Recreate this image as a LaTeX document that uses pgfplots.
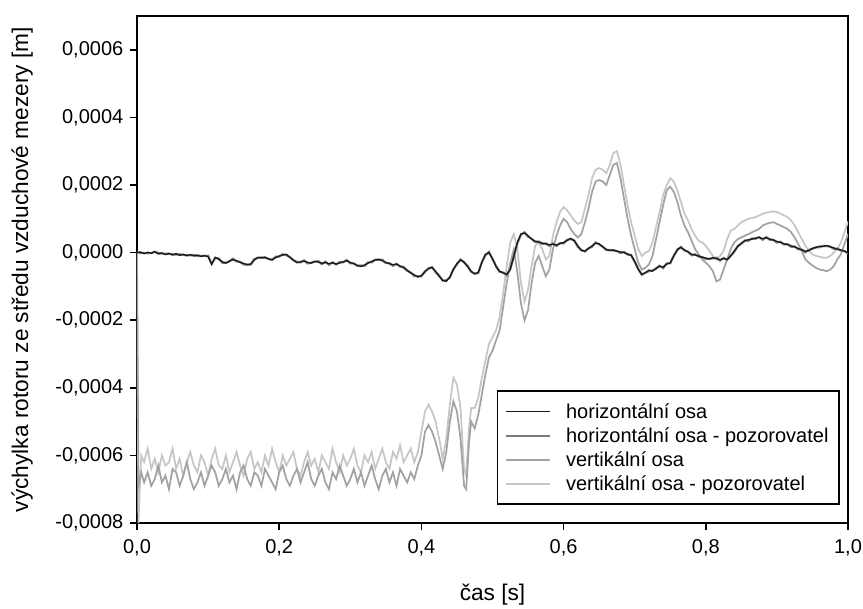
\documentclass[border=0pt]{standalone}
\usepackage{pgfplots}
\pgfplotsset{compat=1.18}
\usepackage{pgfplotstable}
\usepackage{fontspec}
\setmainfont{Liberation Sans}

\definecolor{hcol}{HTML}{1A1A1A}
\definecolor{hpcol}{HTML}{7C7C7C}
\definecolor{vcol}{HTML}{A2A2A2}
\definecolor{vpcol}{HTML}{C6C6C6}

% values in 1e-4 m
\pgfplotstableread{
t h hp
0.000 0.00 0.01
0.005 0.02 -0.01
0.010 -0.03 -0.01
0.015 0.01 -0.02
0.020 -0.02 -0.01
0.025 0.03 0.02
0.030 -0.04 -0.01
0.035 -0.01 -0.03
0.040 -0.06 -0.03
0.045 -0.02 -0.04
0.050 -0.07 -0.05
0.055 -0.03 -0.06
0.060 -0.08 -0.05
0.065 -0.05 -0.07
0.070 -0.09 -0.08
0.075 -0.06 -0.08
0.080 -0.10 -0.07
0.085 -0.07 -0.10
0.090 -0.11 -0.10
0.095 -0.09 -0.10
0.100 -0.12 -0.09
0.105 -0.35 -0.33
0.110 -0.14 -0.16
0.115 -0.20 -0.17
0.120 -0.27 -0.30
0.125 -0.31 -0.30
0.130 -0.25 -0.26
0.135 -0.21 -0.18
0.140 -0.24 -0.26
0.145 -0.29 -0.27
0.150 -0.32 -0.35
0.155 -0.36 -0.35
0.160 -0.34 -0.35
0.165 -0.22 -0.19
0.170 -0.14 -0.16
0.175 -0.16 -0.14
0.180 -0.13 -0.16
0.185 -0.19 -0.18
0.190 -0.21 -0.22
0.195 -0.15 -0.12
0.200 -0.10 -0.12
0.205 -0.07 -0.05
0.210 -0.05 -0.08
0.215 -0.14 -0.13
0.220 -0.22 -0.23
0.225 -0.30 -0.27
0.230 -0.27 -0.29
0.235 -0.25 -0.23
0.240 -0.29 -0.32
0.245 -0.31 -0.30
0.250 -0.26 -0.27
0.255 -0.28 -0.25
0.260 -0.32 -0.34
0.265 -0.29 -0.27
0.270 -0.33 -0.36
0.275 -0.30 -0.29
0.280 -0.34 -0.35
0.285 -0.31 -0.28
0.290 -0.27 -0.29
0.295 -0.24 -0.22
0.300 -0.29 -0.32
0.305 -0.33 -0.32
0.310 -0.38 -0.39
0.315 -0.41 -0.38
0.320 -0.37 -0.39
0.325 -0.31 -0.29
0.330 -0.26 -0.29
0.335 -0.22 -0.21
0.340 -0.20 -0.21
0.345 -0.24 -0.21
0.350 -0.29 -0.31
0.355 -0.33 -0.31
0.360 -0.36 -0.39
0.365 -0.34 -0.33
0.370 -0.40 -0.41
0.375 -0.45 -0.42
0.380 -0.52 -0.54
0.385 -0.60 -0.59
0.390 -0.66 -0.69
0.395 -0.72 -0.70
0.400 -0.68 -0.70
0.405 -0.57 -0.55
0.410 -0.46 -0.48
0.415 -0.44 -0.43
0.420 -0.55 -0.58
0.425 -0.70 -0.68
0.430 -0.82 -0.83
0.435 -0.85 -0.82
0.440 -0.72 -0.74
0.445 -0.50 -0.49
0.450 -0.32 -0.35
0.455 -0.22 -0.20
0.460 -0.28 -0.29
0.465 -0.42 -0.39
0.470 -0.55 -0.57
0.475 -0.63 -0.62
0.480 -0.58 -0.61
0.485 -0.30 -0.28
0.490 -0.05 -0.08
0.495 0.00 0.02
0.500 -0.18 -0.19
0.505 -0.42 -0.39
0.510 -0.55 -0.57
0.515 -0.60 -0.59
0.520 -0.64 -0.67
0.525 -0.50 -0.48
0.530 -0.10 -0.12
0.535 0.30 0.28
0.540 0.55 0.53
0.545 0.58 0.60
0.550 0.50 0.47
0.555 0.40 0.41
0.560 0.34 0.31
0.565 0.31 0.33
0.570 0.28 0.26
0.575 0.26 0.27
0.580 0.23 0.20
0.585 0.25 0.27
0.590 0.22 0.20
0.595 0.27 0.28
0.600 0.30 0.27
0.605 0.36 0.38
0.610 0.42 0.40
0.615 0.35 0.36
0.620 0.20 0.17
0.625 0.06 0.08
0.630 0.05 0.03
0.635 0.12 0.13
0.640 0.20 0.17
0.645 0.28 0.30
0.650 0.26 0.24
0.655 0.17 0.18
0.660 0.10 0.07
0.665 0.06 0.08
0.670 0.08 0.06
0.675 0.04 0.05
0.680 0.02 -0.01
0.685 0.00 0.02
0.690 -0.04 -0.06
0.695 -0.08 -0.07
0.700 -0.25 -0.28
0.705 -0.50 -0.48
0.710 -0.64 -0.66
0.715 -0.60 -0.59
0.720 -0.52 -0.55
0.725 -0.55 -0.53
0.730 -0.46 -0.48
0.735 -0.40 -0.39
0.740 -0.43 -0.46
0.745 -0.34 -0.32
0.750 -0.30 -0.32
0.755 -0.10 -0.09
0.760 0.10 0.07
0.765 0.15 0.17
0.770 0.08 0.06
0.775 0.02 0.03
0.780 -0.05 -0.08
0.785 -0.07 -0.05
0.790 -0.10 -0.12
0.795 -0.14 -0.13
0.800 -0.16 -0.19
0.805 -0.19 -0.18
0.810 -0.15 -0.17
0.815 -0.18 -0.15
0.820 -0.21 -0.24
0.825 -0.17 -0.16
0.830 -0.20 -0.22
0.835 -0.10 -0.09
0.840 0.05 0.02
0.845 0.18 0.20
0.850 0.28 0.26
0.855 0.35 0.36
0.860 0.38 0.35
0.865 0.40 0.42
0.870 0.43 0.41
0.875 0.45 0.46
0.880 0.41 0.38
0.885 0.44 0.46
0.890 0.40 0.38
0.895 0.37 0.38
0.900 0.33 0.30
0.905 0.30 0.32
0.910 0.26 0.24
0.915 0.24 0.25
0.920 0.20 0.17
0.925 0.17 0.18
0.930 0.12 0.10
0.935 0.08 0.09
0.940 0.04 0.01
0.945 0.06 0.08
0.950 0.13 0.11
0.955 0.15 0.16
0.960 0.19 0.16
0.965 0.18 0.20
0.970 0.21 0.19
0.975 0.17 0.18
0.980 0.14 0.11
0.985 0.10 0.12
0.990 0.08 0.06
0.995 0.04 0.05
1.000 0.00 -0.03
}\horiz

\pgfplotstableread{
t v vp
0.000 0.0 0.0
0.002 -6.9 -8.0
0.006 -6.5 -6.0
0.010 -6.8 -6.2
0.015 -6.5 -5.8
0.020 -6.9 -6.4
0.025 -6.7 -6.1
0.030 -6.3 -6.5
0.035 -6.8 -6.0
0.040 -6.6 -6.3
0.045 -7.0 -6.2
0.050 -6.4 -5.8
0.055 -6.5 -6.4
0.060 -6.9 -6.1
0.065 -6.6 -6.6
0.070 -6.2 -6.2
0.075 -6.7 -5.9
0.080 -7.0 -6.3
0.085 -6.8 -6.5
0.090 -6.5 -6.0
0.095 -6.9 -6.2
0.100 -6.6 -6.6
0.105 -6.3 -6.1
0.110 -6.5 -5.8
0.115 -6.9 -6.3
0.120 -6.7 -6.4
0.125 -6.4 -6.0
0.130 -6.8 -6.5
0.135 -6.6 -6.2
0.140 -7.0 -5.9
0.145 -6.5 -6.3
0.150 -6.3 -6.6
0.155 -6.7 -6.1
0.160 -6.9 -5.9
0.165 -6.5 -6.4
0.170 -6.6 -6.2
0.175 -6.9 -6.5
0.180 -6.4 -6.0
0.185 -6.6 -6.3
0.190 -6.8 -5.8
0.195 -7.0 -6.2
0.200 -6.5 -6.5
0.205 -6.3 -6.0
0.210 -6.7 -6.3
0.215 -6.9 -6.1
0.220 -6.6 -5.9
0.225 -6.4 -6.4
0.230 -6.8 -6.6
0.235 -6.5 -6.2
0.240 -6.2 -5.9
0.245 -6.7 -6.3
0.250 -6.9 -6.1
0.255 -6.6 -6.5
0.260 -6.4 -6.0
0.265 -6.8 -6.2
0.270 -7.0 -6.4
0.275 -6.5 -5.8
0.280 -6.7 -6.2
0.285 -6.3 -6.5
0.290 -6.6 -6.0
0.295 -6.9 -6.3
0.300 -6.7 -6.1
0.305 -6.4 -5.8
0.310 -6.8 -6.3
0.315 -6.5 -6.5
0.320 -6.9 -6.0
0.325 -6.6 -6.2
0.330 -6.3 -5.9
0.335 -6.7 -6.4
0.340 -7.0 -6.1
0.345 -6.6 -5.8
0.350 -6.4 -6.2
0.355 -6.8 -6.4
0.360 -6.5 -5.9
0.365 -6.9 -6.1
0.370 -6.4 -5.7
0.375 -6.6 -6.2
0.380 -6.8 -6.0
0.385 -6.5 -5.8
0.390 -6.7 -6.2
0.395 -6.3 -5.9
0.400 -6.0 -5.3
0.405 -5.3 -4.7
0.410 -5.1 -4.5
0.415 -5.3 -4.7
0.420 -5.6 -5.0
0.425 -6.0 -5.5
0.430 -6.4 -6.1
0.435 -5.9 -5.5
0.440 -5.0 -4.5
0.445 -4.4 -3.7
0.450 -4.7 -3.9
0.455 -5.5 -4.6
0.460 -6.9 -6.4
0.463 -7.0 -6.6
0.467 -5.6 -5.2
0.470 -5.0 -4.6
0.475 -5.2 -4.6
0.480 -4.8 -4.3
0.485 -4.2 -3.7
0.490 -3.6 -3.2
0.495 -3.1 -2.7
0.500 -2.9 -2.5
0.505 -2.6 -2.3
0.510 -2.3 -1.9
0.515 -1.6 -1.2
0.520 -0.9 -0.4
0.525 -0.3 0.3
0.530 0.1 0.55
0.535 -0.6 0.1
0.540 -1.5 -0.9
0.545 -2.0 -1.45
0.550 -1.7 -1.1
0.555 -0.9 -0.4
0.560 -0.3 0.2
0.565 -0.1 0.3
0.570 -0.4 0.1
0.575 -0.7 -0.2
0.580 -0.5 -0.1
0.585 0.1 0.5
0.590 0.5 0.9
0.595 0.8 1.2
0.600 1.0 1.35
0.605 0.9 1.25
0.610 0.7 1.1
0.615 0.55 0.95
0.620 0.45 0.85
0.625 0.55 0.9
0.630 0.9 1.3
0.635 1.3 1.7
0.640 1.8 2.2
0.645 2.1 2.45
0.650 2.15 2.5
0.655 2.1 2.45
0.660 2.0 2.35
0.665 2.3 2.6
0.670 2.6 2.95
0.675 2.65 3.0
0.680 2.2 2.6
0.685 1.6 2.0
0.690 1.0 1.4
0.695 0.5 0.9
0.700 0.1 0.5
0.705 -0.3 0.1
0.710 -0.5 -0.1
0.715 -0.45 0.0
0.720 -0.35 0.05
0.725 -0.1 0.3
0.730 0.4 0.75
0.735 0.9 1.2
0.740 1.4 1.7
0.745 1.85 2.0
0.750 1.95 2.2
0.755 1.8 2.1
0.760 1.5 1.85
0.765 1.1 1.5
0.770 0.8 1.15
0.775 0.6 0.95
0.780 0.35 0.7
0.785 0.1 0.5
0.790 -0.05 0.35
0.795 -0.2 0.3
0.800 -0.3 0.2
0.805 -0.4 0.05
0.810 -0.55 -0.1
0.815 -0.85 -0.2
0.820 -0.8 -0.1
0.825 -0.5 0.05
0.830 -0.2 0.4
0.835 0.1 0.65
0.840 0.3 0.7
0.845 0.4 0.8
0.850 0.45 0.9
0.855 0.5 0.95
0.860 0.55 1.0
0.865 0.6 1.02
0.870 0.65 1.05
0.875 0.7 1.1
0.880 0.8 1.15
0.885 0.85 1.18
0.890 0.88 1.2
0.895 0.9 1.22
0.900 0.85 1.2
0.905 0.8 1.15
0.910 0.75 1.1
0.915 0.7 1.05
0.920 0.6 0.95
0.925 0.45 0.8
0.930 0.25 0.6
0.935 0.05 0.4
0.940 -0.2 0.2
0.945 -0.3 0.05
0.950 -0.38 -0.05
0.955 -0.45 -0.1
0.960 -0.5 -0.12
0.965 -0.52 -0.15
0.970 -0.55 -0.15
0.975 -0.5 -0.1
0.980 -0.4 0.0
0.985 -0.2 0.1
0.990 -0.05 0.3
0.995 0.25 0.6
1.000 0.55 0.92
}\vert

\begin{document}
\begin{tikzpicture}
\useasboundingbox (-102.75pt,-63.75pt) rectangle (544.5pt,392.25pt);
\begin{axis}[
    scale only axis,
    width=533.25pt, height=380.25pt,
    xmin=0, xmax=1, ymin=-8, ymax=7,
    xtick={0,0.2,0.4,0.6,0.8,1},
    xticklabels={{0,0},{0,2},{0,4},{0,6},{0,8},{1,0}},
    ytick={-8,-6,-4,-2,0,2,4,6},
    yticklabels={{-0,0008},{-0,0006},{-0,0004},{-0,0002},{0,0000},{0,0002},{0,0004},{0,0006}},
    tick align=outside, tick pos=left,
    major tick length=5.25pt,
    axis line style={line width=1.2pt},
    every tick/.style={black, line width=1.2pt},
    ticklabel style={font=\fontsize{15}{17}\selectfont},
    xticklabel style={yshift=-3.5pt},
    yticklabel style={xshift=-1.5pt},
    xlabel={čas [s]},
    ylabel={výchylka rotoru ze středu vzduchové mezery [m]},
    label style={font=\fontsize{17}{20}\selectfont},
    xlabel style={at={(axis description cs:0.5,-0.141)}, anchor=center},
    ylabel style={at={(axis description cs:-0.1617,0.5)}, anchor=center},
    reverse legend,
    legend cell align=left,
    legend image code/.code={\draw[#1] (0pt,0pt) -- (33pt,0pt);},
    legend style={at={(0.9887,0.0355)}, anchor=south east,
        draw=black, line width=1.2pt,
        font=\fontsize{15}{18}\selectfont,
        inner xsep=6pt, inner ysep=7pt, row sep=1.5pt,
        /tikz/every odd column/.append style={column sep=9pt}},
]
\addplot[vpcol, line width=1.3pt] table[x=t, y=vp] {\vert};
\addlegendentry{vertikální osa - pozorovatel}
\addplot[vcol, line width=1.3pt] table[x=t, y=v] {\vert};
\addlegendentry{vertikální osa}
\addplot[hpcol, line width=1.6pt] table[x=t, y=hp] {\horiz};
\addlegendentry{horizontální osa - pozorovatel}
\addplot[hcol, line width=1pt] table[x=t, y=h] {\horiz};
\addlegendentry{horizontální osa}
\end{axis}
\end{tikzpicture}
\end{document}
